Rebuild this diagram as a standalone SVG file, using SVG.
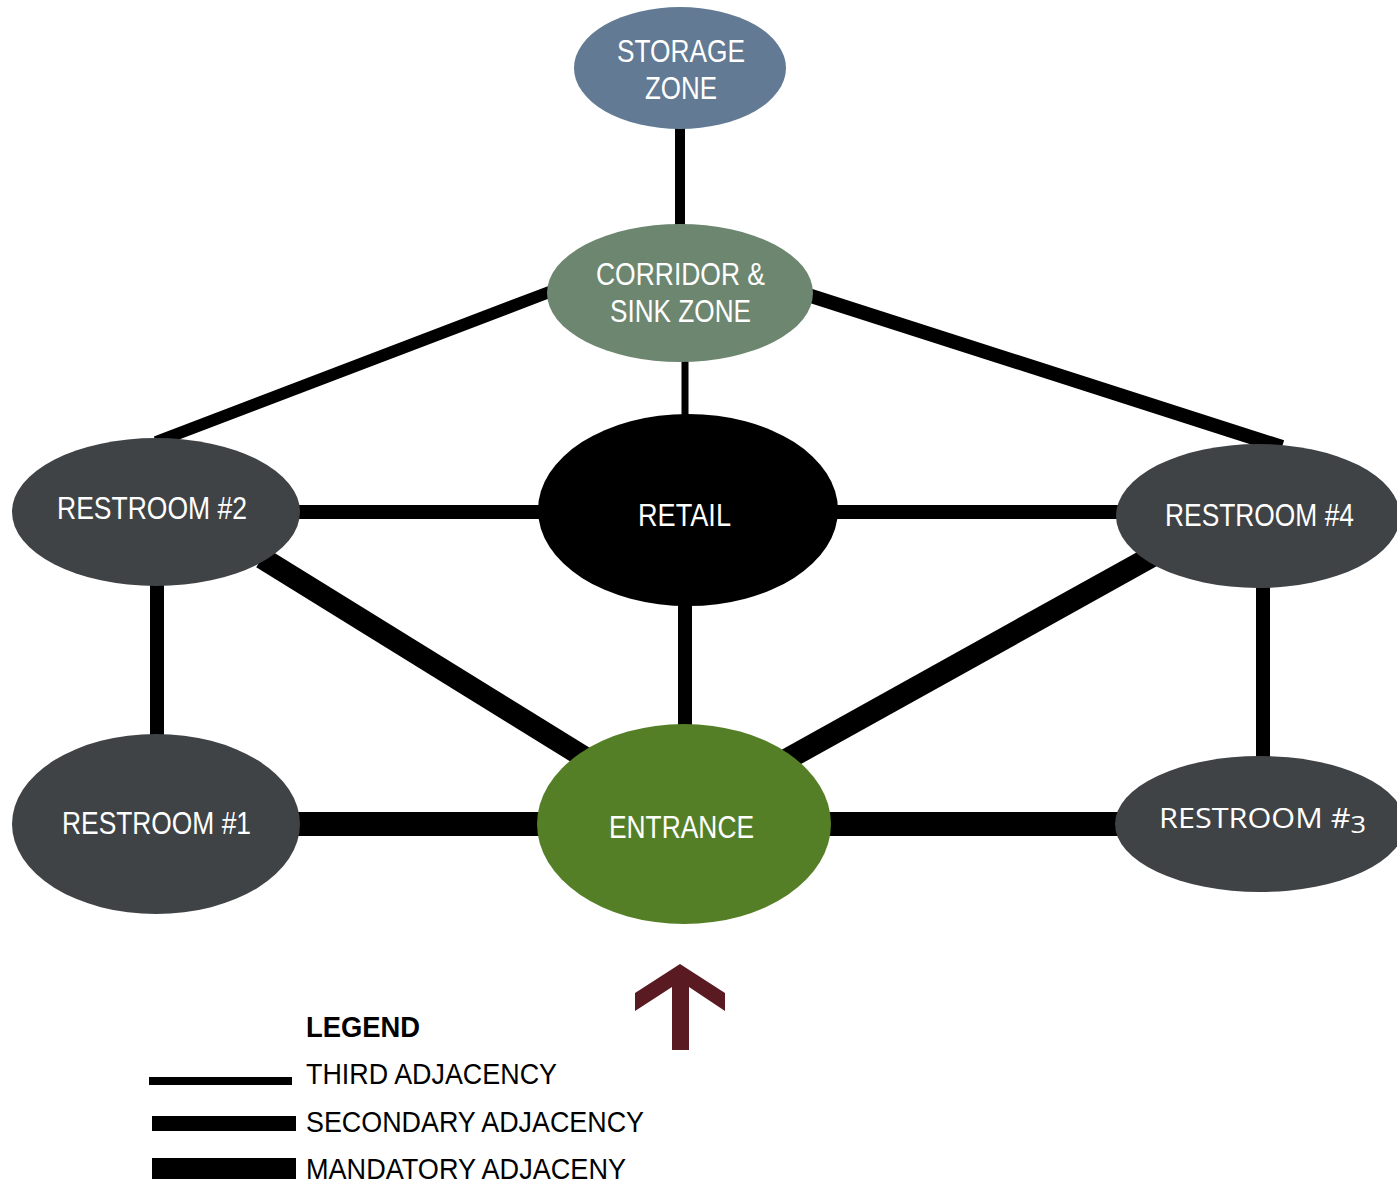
<svg xmlns="http://www.w3.org/2000/svg" width="1397" height="1186" viewBox="0 0 1397 1186">
<style>
.lbl{font-family:"Liberation Sans Narrow","Liberation Sans",Arial,sans-serif;font-size:31px;fill:#ffffff;text-anchor:start}
.lg{font-family:"Liberation Sans Narrow","Liberation Sans",Arial,sans-serif;font-size:29px;fill:#000000}
.c{stroke:#000000;fill:none;stroke-linecap:butt}
.rest{fill:#3f4346}
</style>
<rect width="1397" height="1186" fill="#ffffff"/>
<g id="connectors">
<line class="c" x1="680" y1="125" x2="680" y2="230" stroke-width="10"/>
<line class="c" x1="685" y1="360" x2="685" y2="418" stroke-width="7"/>
<line class="c" x1="552" y1="291" x2="156" y2="442" stroke-width="12"/>
<line class="c" x1="808" y1="295" x2="1282" y2="447" stroke-width="14"/>
<line class="c" x1="298" y1="512" x2="540" y2="512" stroke-width="14"/>
<line class="c" x1="836" y1="512" x2="1120" y2="512" stroke-width="14"/>
<line class="c" x1="262" y1="558" x2="592" y2="762" stroke-width="22"/>
<line class="c" x1="1158" y1="553" x2="782" y2="762" stroke-width="22"/>
<line class="c" x1="685" y1="602" x2="685" y2="728" stroke-width="14"/>
<line class="c" x1="157" y1="584" x2="157" y2="738" stroke-width="14"/>
<line class="c" x1="1263" y1="586" x2="1263" y2="758" stroke-width="14"/>
<line class="c" x1="296" y1="824" x2="542" y2="824" stroke-width="24"/>
<line class="c" x1="828" y1="824" x2="1120" y2="824" stroke-width="24"/>
</g>
<g id="storage">
<ellipse cx="680" cy="68" rx="106" ry="61" fill="#627a93"/>
<text class="lbl" x="617" y="62" textLength="128" lengthAdjust="spacingAndGlyphs">STORAGE</text>
<text class="lbl" x="645" y="99" textLength="72" lengthAdjust="spacingAndGlyphs">ZONE</text>
</g>
<g id="corridor">
<ellipse cx="680" cy="293" rx="133" ry="69" fill="#6d8670"/>
<text class="lbl" x="596" y="285" textLength="169" lengthAdjust="spacingAndGlyphs">CORRIDOR &amp;</text>
<text class="lbl" x="610" y="322" textLength="141" lengthAdjust="spacingAndGlyphs">SINK ZONE</text>
</g>
<g id="retail">
<ellipse cx="688" cy="510" rx="150" ry="96" fill="#000000"/>
<text class="lbl" x="638" y="526" textLength="93" lengthAdjust="spacingAndGlyphs">RETAIL</text>
</g>
<g id="restroom2">
<ellipse class="rest" cx="156" cy="512" rx="144" ry="74"/>
<text class="lbl" x="57" y="519" textLength="190" lengthAdjust="spacingAndGlyphs">RESTROOM #2</text>
</g>
<g id="restroom4">
<ellipse class="rest" cx="1258" cy="516" rx="142" ry="72"/>
<text class="lbl" x="1165" y="526" textLength="189" lengthAdjust="spacingAndGlyphs">RESTROOM #4</text>
</g>
<g id="restroom1">
<ellipse class="rest" cx="156" cy="824" rx="144" ry="90"/>
<text class="lbl" x="62" y="834" textLength="189" lengthAdjust="spacingAndGlyphs">RESTROOM #1</text>
</g>
<g id="entrance">
<ellipse cx="684" cy="824" rx="147" ry="100" fill="#557f27"/>
<text class="lbl" x="609" y="838" textLength="145" lengthAdjust="spacingAndGlyphs">ENTRANCE</text>
</g>
<g id="restroom3">
<ellipse class="rest" cx="1260" cy="824" rx="145" ry="68"/>
<text x="1159" y="828" textLength="207" lengthAdjust="spacingAndGlyphs" style="font-family:'Open Sans','Noto Sans',sans-serif;font-size:27px;fill:#ffffff">RESTROOM #<tspan style="font-size:24px" dy="5">3</tspan></text>
</g>
<g id="arrow">
<polygon points="680,964 725,993 725,1011 689,987 689,1050 672,1050 672,987 635,1011 635,993" fill="#5a1a22"/>
</g>
<g id="legend">
<text class="lg" x="306" y="1037" font-weight="bold" textLength="114" lengthAdjust="spacingAndGlyphs">LEGEND</text>
<line class="c" x1="149" y1="1081" x2="292" y2="1081" stroke-width="8"/>
<text class="lg" x="306" y="1084" textLength="251" lengthAdjust="spacingAndGlyphs">THIRD ADJACENCY</text>
<line class="c" x1="152" y1="1123.5" x2="296" y2="1123.5" stroke-width="15"/>
<text class="lg" x="306" y="1132" textLength="338" lengthAdjust="spacingAndGlyphs">SECONDARY ADJACENCY</text>
<line class="c" x1="152" y1="1168.5" x2="296" y2="1168.5" stroke-width="21"/>
<text class="lg" x="306" y="1179" textLength="320" lengthAdjust="spacingAndGlyphs">MANDATORY ADJACENY</text>
</g>
</svg>
